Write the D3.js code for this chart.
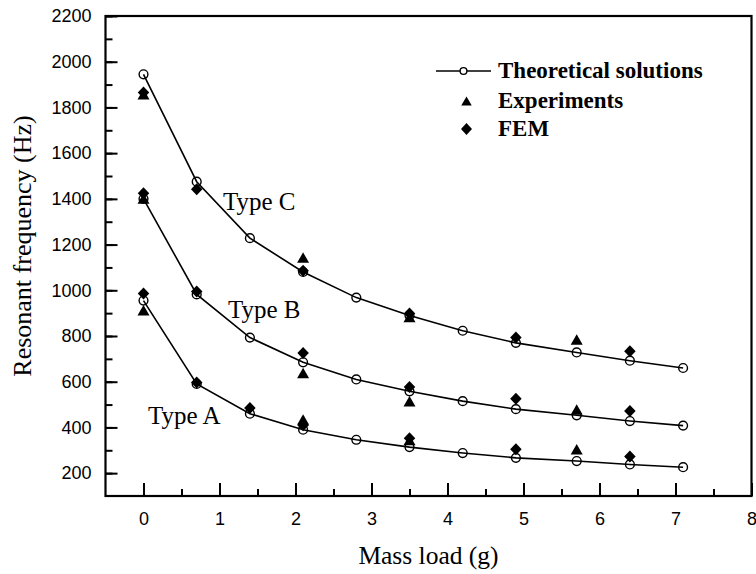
<!DOCTYPE html>
<html>
<head>
<meta charset="utf-8">
<script src="https://cdn.jsdelivr.net/npm/d3@7/dist/d3.min.js"></script>
<style>
html,body{margin:0;padding:0;background:#fff;}
svg{display:block;}
</style>
</head>
<body>
<svg id="chart" width="756" height="574"></svg>
<script>
// ---- data ----
const massTheory = [0, 0.7, 1.4, 2.1, 2.8, 3.5, 4.2, 4.9, 5.7, 6.4, 7.1];
const theoryA = [955, 590, 460, 390, 346, 314, 288, 267, 253, 238, 226];
const theoryB = [1400, 982, 793, 685, 610, 558, 515, 480, 453, 428, 408];
const theoryC = [1945, 1475, 1228, 1080, 968, 890, 823, 770, 728, 692, 660];

const massExp = [0, 2.1, 3.5, 5.7];
const expA = [913, 435, 345, 305];
const expB = [1402, 638, 514, 478];
const expC = [1858, 1143, 883, 785];

const massFem = [0, 0.7, 1.4, 2.1, 3.5, 4.9, 6.4];
const femA = [986, 597, 485, 410, 353, 305, 273];
const femB = [1424, 995, null, 726, 577, 526, 472];
const femC = [1865, 1442, null, 1085, 898, 793, 733];

const xTicks = [0, 1, 2, 3, 4, 5, 6, 7, 8];
const yTicks = [200, 400, 600, 800, 1000, 1200, 1400, 1600, 1800, 2000, 2200];
const typeLabels = ["Type A", "Type B", "Type C"];
const legendLabels = ["Theoretical solutions", "Experiments", "FEM"];
const xTitle = "Mass load (g)";
const yTitle = "Resonant frequency (Hz)";

// ---- layout ----
const svg = d3.select("#chart");
const L = 105.5, R = 751.5, T = 16, B = 496;
const x = d3.scaleLinear().domain([-0.5, 8]).range([L, R]);
const y = d3.scaleLinear().domain([100, 2200]).range([B, T]);

const serif = "'Liberation Serif','Times New Roman',serif";
const sans = "'Liberation Sans',Arial,sans-serif";

// axes (ticks inward)
const xMinor = d3.range(-0.0, 8.01, 0.5).filter(v => v > -0.5 && v < 8);
const gx = svg.append("g").attr("transform", `translate(0,${B})`);
gx.call(d3.axisBottom(x).tickValues(xMinor).tickSize(-7).tickFormat(""));
gx.call(g => g.selectAll(".tick line").attr("stroke-width", 2));
const gx2 = svg.append("g").attr("transform", `translate(0,${B})`);
gx2.call(d3.axisBottom(x).tickValues(xTicks).tickSize(-13).tickPadding(16).tickFormat(d3.format("d")));
gx2.selectAll(".tick line").attr("stroke-width", 2);
gx2.selectAll(".tick text").attr("font-family", sans).attr("font-size", 18).attr("fill", "#000").attr("dy", "0.71em");

const yMinor = d3.range(200, 2201, 100);
const gy = svg.append("g").attr("transform", `translate(${L},0)`);
gy.call(d3.axisLeft(y).tickValues(yMinor).tickSize(-7).tickFormat(""));
gy.selectAll(".tick line").attr("stroke-width", 2);
const gy2 = svg.append("g").attr("transform", `translate(${L},0)`);
gy2.call(d3.axisLeft(y).tickValues(yTicks).tickSize(-12).tickPadding(14).tickFormat(d3.format("d")));
gy2.selectAll(".tick line").attr("stroke-width", 2);
gy2.selectAll(".tick text").attr("font-family", sans).attr("font-size", 18).attr("fill", "#000");
svg.selectAll(".domain").remove();

// frame
svg.append("rect").attr("x", L).attr("y", T).attr("width", R - L).attr("height", B - T)
  .attr("fill", "none").attr("stroke", "#000").attr("stroke-width", 2.2);

// series
const theories = [theoryA, theoryB, theoryC];
const exps = [expA, expB, expC];
const fems = [femA, femB, femC];

const line = d3.line().x(d => x(d[0])).y(d => y(d[1]));
theories.forEach(t => {
  svg.append("path").datum(massTheory.map((m, i) => [m, t[i]]))
    .attr("d", line).attr("fill", "none").attr("stroke", "#000").attr("stroke-width", 1.6);
});

function tri(cx, cy, w, h) {
  return `M${cx},${cy - h / 2}L${cx + w / 2},${cy + h / 2}L${cx - w / 2},${cy + h / 2}Z`;
}
function dia(cx, cy, w, h) {
  return `M${cx},${cy - h / 2}L${cx + w / 2},${cy}L${cx},${cy + h / 2}L${cx - w / 2},${cy}Z`;
}

exps.forEach(e => {
  svg.append("g").selectAll("path").data(massExp.map((m, i) => [m, e[i]]).filter(d => d[1] != null))
    .join("path").attr("d", d => tri(x(d[0]), y(d[1]), 12, 10.5)).attr("fill", "#000");
});
fems.forEach(f => {
  svg.append("g").selectAll("path").data(massFem.map((m, i) => [m, f[i]]).filter(d => d[1] != null))
    .join("path").attr("d", d => dia(x(d[0]), y(d[1]), 11.5, 12)).attr("fill", "#000");
});
theories.forEach(t => {
  svg.append("g").selectAll("circle").data(massTheory.map((m, i) => [m, t[i]]))
    .join("circle").attr("cx", d => x(d[0])).attr("cy", d => y(d[1])).attr("r", 4.4)
    .attr("fill", "none").attr("stroke", "#000").attr("stroke-width", 1.4);
});

// type labels
const typePos = [[148, 424], [228, 318], [223, 210]];
typeLabels.forEach((lab, i) => {
  svg.append("text").attr("x", typePos[i][0]).attr("y", typePos[i][1])
    .attr("font-family", serif).attr("font-size", 25).attr("fill", "#000").text(lab);
});

// legend
const lg = svg.append("g");
lg.append("line").attr("x1", 436).attr("x2", 491).attr("y1", 71).attr("y2", 71)
  .attr("stroke", "#000").attr("stroke-width", 1.6);
lg.append("circle").attr("cx", 463.5).attr("cy", 71).attr("r", 3.4)
  .attr("fill", "#fff").attr("stroke", "#000").attr("stroke-width", 1.4);
lg.append("path").attr("d", tri(466.5, 101, 10.5, 9)).attr("fill", "#000");
lg.append("path").attr("d", dia(466.5, 129, 11, 12)).attr("fill", "#000");
const legY = [78, 107.5, 136];
legendLabels.forEach((lab, i) => {
  lg.append("text").attr("x", 498).attr("y", legY[i])
    .attr("font-family", serif).attr("font-weight", "bold").attr("font-size", 23)
    .attr("fill", "#000").text(lab);
});

// axis titles
svg.append("text").attr("x", (L + R) / 2).attr("y", 564).attr("text-anchor", "middle")
  .attr("font-family", serif).attr("font-size", 25.5).attr("fill", "#000").text(xTitle);
svg.append("text").attr("transform", "translate(31,246) rotate(-90)").attr("text-anchor", "middle")
  .attr("font-family", serif).attr("font-size", 26).attr("fill", "#000").text(yTitle);
</script>
</body>
</html>
